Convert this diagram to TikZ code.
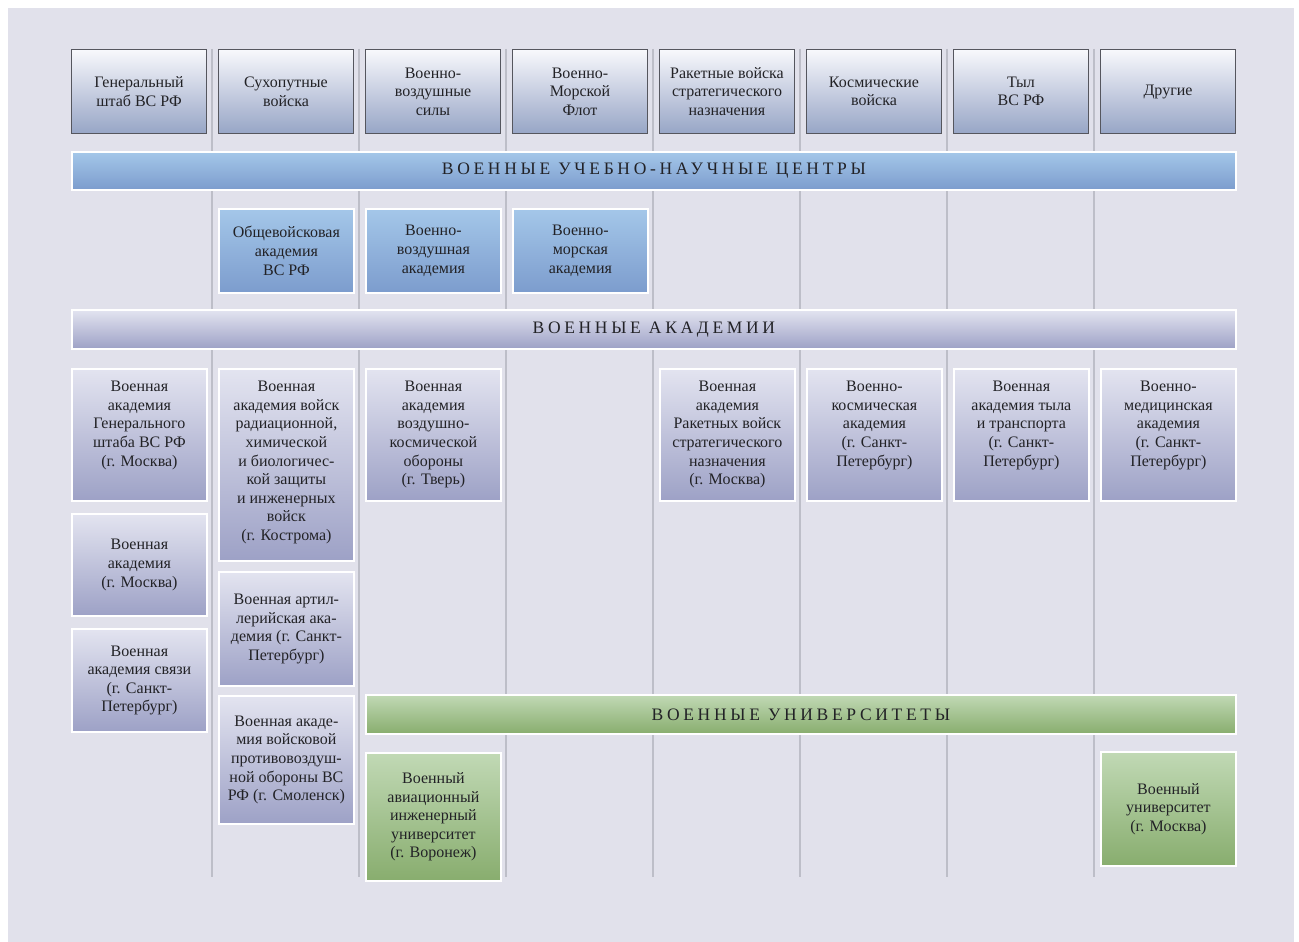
\documentclass[tikz,border=0pt]{standalone}
\usepackage{fontspec}
\setmainfont{Liberation Serif}
\newfontfamily\bandfont[LetterSpace=21]{Liberation Serif}
\definecolor{bg}{HTML}{E1E1EB}
\definecolor{sep}{HTML}{BDBEC8}
\definecolor{topT}{HTML}{F8F9FC}
\definecolor{topB}{HTML}{97A5C6}
\definecolor{bluT}{HTML}{A4C7E9}
\definecolor{bluB}{HTML}{7C9CCD}
\definecolor{lavT}{HTML}{E3E4F0}
\definecolor{lavB}{HTML}{9DA1C6}
\definecolor{grnT}{HTML}{C1D9B5}
\definecolor{grnB}{HTML}{88AD6E}
\definecolor{txt}{HTML}{222226}
\definecolor{frame}{HTML}{55565E}
\tikzset{
  box/.style={rectangle, inner sep=0pt, anchor=north west, line width=1.8pt, draw=white},
  hq/.style={box, draw=frame, line width=1pt, top color=topT, bottom color=topB},
  blu/.style={box, top color=bluT, bottom color=bluB},
  lav/.style={box, top color=lavT, bottom color=lavB},
  grn/.style={box, top color=grnT, bottom color=grnB},
  lbl/.style={text=txt, align=center, inner sep=0pt, font=\fontsize{16}{18.6}\selectfont},
  bandtxt/.style={text=txt, inner sep=0pt, font=\bandfont\fontsize{17.5}{20}\selectfont},
  sepline/.style={draw=sep, line width=2pt}
}
% centred text box: name, style, x, y, w, h, text
\newcommand{\cbox}[7]{%
  \node[#2, minimum width=#5pt, minimum height=#6pt] (#1) at (#3,#4) {};
  \node[lbl] (#1t) at (#1.center) {#7};}
% top-aligned text box
\newcommand{\tbox}[7]{%
  \node[#2, minimum width=#5pt, minimum height=#6pt] (#1) at (#3,#4) {};
  \node[lbl, anchor=north] (#1t) at ([yshift=-13pt]#1.north) {#7};}
\begin{document}
\begin{tikzpicture}[x=1pt, y=-1pt]
\useasboundingbox (0,0) rectangle (1299,942);
\fill[white] (0,0) rectangle (1299,942);
\fill[bg] (8,8) rectangle (1294,942);
% column separators
\foreach \sx [count=\i] in {212,359,506,653,800,947,1094} {
  \coordinate (s\i a) at (\sx,49);
  \coordinate (s\i b) at (\sx,877);
  \draw[sepline] (s\i a) -- (s\i b);
}
% row 1: branches
\cbox{h1}{hq}{71}{49}{135}{84}{Генеральный\\штаб ВС РФ}
\cbox{h2}{hq}{218}{49}{135}{84}{Сухопутные\\войска}
\cbox{h3}{hq}{365}{49}{135}{84}{Военно-\\воздушные\\силы}
\cbox{h4}{hq}{512}{49}{135}{84}{Военно-\\Морской\\Флот}
\cbox{h5}{hq}{659}{49}{135}{84}{Ракетные войска\\стратегического\\назначения}
\cbox{h6}{hq}{806}{49}{135}{84}{Космические\\войска}
\cbox{h7}{hq}{953}{49}{135}{84}{Тыл\\ВС РФ}
\cbox{h8}{hq}{1100}{49}{135}{84}{Другие}
% band 1
\node[blu, minimum width=1164pt, minimum height=38pt] (band1) at (71,151) {};
\node[bandtxt] (band1t) at (band1.center) {ВОЕННЫЕ УЧЕБНО-НАУЧНЫЕ ЦЕНТРЫ};
% row 2
\cbox{c2}{blu}{218}{208}{135}{84}{Общевойсковая\\академия\\ВС РФ}
\cbox{c3}{blu}{365}{208}{135}{84}{Военно-\\воздушная\\академия}
\cbox{c4}{blu}{512}{208}{135}{84}{Военно-\\морская\\академия}
% band 2
\node[lav, minimum width=1164pt, minimum height=39pt] (band2) at (71,309) {};
\node[bandtxt] (band2t) at (band2.center) {ВОЕННЫЕ АКАДЕМИИ};
% row 3
\tbox{a1}{lav}{71}{368}{135}{132}{Военная\\академия\\Генерального\\штаба ВС РФ\\(г. Москва)}
\tbox{a2}{lav}{218}{368}{135}{192}{Военная\\академия войск\\радиационной,\\химической\\и биологичес-\\кой защиты\\и инженерных\\войск\\(г. Кострома)}
\tbox{a3}{lav}{365}{368}{135}{132}{Военная\\академия\\воздушно-\\космической\\обороны\\(г. Тверь)}
\tbox{a5}{lav}{659}{368}{135}{132}{Военная\\академия\\Ракетных войск\\стратегического\\назначения\\(г. Москва)}
\tbox{a6}{lav}{806}{368}{135}{132}{Военно-\\космическая\\академия\\(г. Санкт-\\Петербург)}
\tbox{a7}{lav}{953}{368}{135}{132}{Военная\\академия тыла\\и транспорта\\(г. Санкт-\\Петербург)}
\tbox{a8}{lav}{1100}{368}{135}{132}{Военно-\\медицинская\\академия\\(г. Санкт-\\Петербург)}
\cbox{b1}{lav}{71}{513}{135}{102}{Военная\\академия\\(г. Москва)}
\cbox{d1}{lav}{71}{628}{135}{103}{Военная\\академия связи\\(г. Санкт-\\Петербург)}
\cbox{b2}{lav}{218}{571}{135}{114}{Военная артил-\\лерийская ака-\\демия (г. Санкт-\\Петербург)}
\cbox{d2}{lav}{218}{695}{135}{128}{Военная акаде-\\мия войсковой\\противовоздуш-\\ной обороны ВС\\РФ (г. Смоленск)}
% band 3
\node[grn, minimum width=870pt, minimum height=39pt] (band3) at (365,694) {};
\node[bandtxt] (band3t) at (band3.center) {ВОЕННЫЕ УНИВЕРСИТЕТЫ};
\cbox{u3}{grn}{365}{752}{135}{128}{Военный\\авиационный\\инженерный\\университет\\(г. Воронеж)}
\cbox{u8}{grn}{1100}{751}{135}{114}{Военный\\университет\\(г. Москва)}
\end{tikzpicture}
\end{document}
